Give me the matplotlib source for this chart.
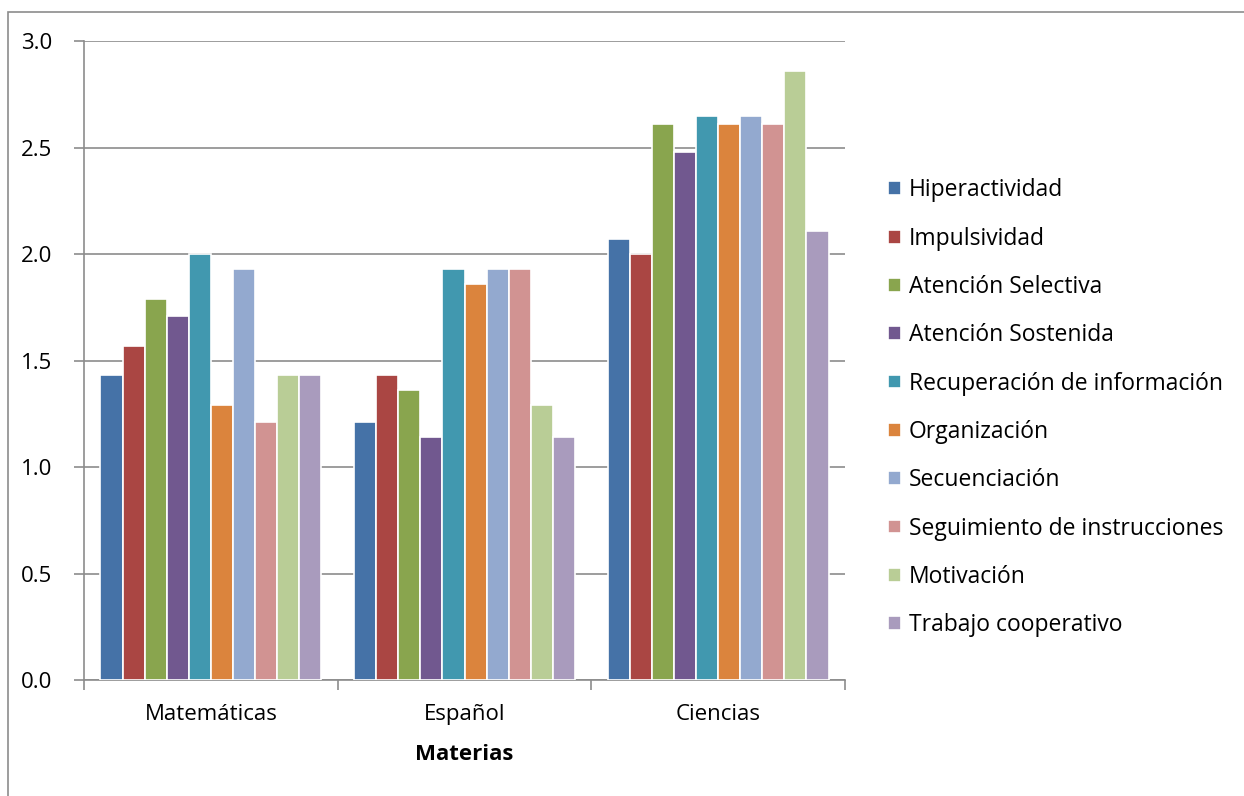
import matplotlib
matplotlib.use("Agg")
import matplotlib.pyplot as plt
from matplotlib.patches import Rectangle
import numpy as np

materias = ["Matemáticas", "Español", "Ciencias"]
series = ["Hiperactividad", "Impulsividad", "Atención Selectiva", "Atención Sostenida",
          "Recuperación de información", "Organización", "Secuenciación",
          "Seguimiento de instrucciones", "Motivación", "Trabajo cooperativo"]
# one row per serie: Matemáticas, Español, Ciencias
valores = [
    [1.43, 1.21, 2.07],
    [1.57, 1.43, 2.00],
    [1.79, 1.36, 2.61],
    [1.71, 1.14, 2.48],
    [2.00, 1.93, 2.65],
    [1.29, 1.86, 2.61],
    [1.93, 1.93, 2.65],
    [1.21, 1.93, 2.61],
    [1.43, 1.29, 2.86],
    [1.43, 1.14, 2.11],
]
colores = ["#4572A7", "#AA4643", "#89A54E", "#71588F", "#4198AF",
           "#DB843D", "#93A9CF", "#D19392", "#B9CD96", "#A99BBD"]

plt.rcParams['font.family'] = ['Open Sans', 'DejaVu Sans']
fs = 16

fig = plt.figure(figsize=(12.44, 7.96), dpi=100)
ax = fig.add_axes([84/1244, 1 - 680/796, 761/1244, 639/796])

# outer chart border
fig.patches.append(Rectangle((8/1244, -0.1), 1.2, 1 - 12/796 + 0.1, transform=fig.transFigure,
                             fill=False, edgecolor="#8c8c8c", linewidth=1.2))

x = np.arange(len(materias))
w = 0.087
for i, (nombre, vals) in enumerate(zip(series, valores)):
    pos = x + (i - 4.5) * w
    ax.bar(pos, vals, w, color=colores[i], edgecolor="white", linewidth=1.2,
           label=nombre, zorder=3)

ax.set_xlim(-0.5, 2.5)
ax.set_ylim(0, 3.0)
ax.set_yticks(np.arange(0, 3.01, 0.5))
ax.set_yticklabels([f"{v:.1f}" for v in np.arange(0, 3.01, 0.5)])
ax.yaxis.grid(True, color="#8c8c8c", linewidth=1.2, zorder=0)
ax.set_axisbelow(True)

ax.set_xticks(x)
ax.set_xticklabels(materias)
ax.set_xticks([-0.5, 0.5, 1.5, 2.5], minor=True)
ax.tick_params(axis="x", which="major", length=0, pad=17, labelsize=fs)
ax.tick_params(axis="x", which="minor", length=7, color="#8c8c8c", width=1.2)
ax.tick_params(axis="y", length=7, color="#8c8c8c", width=1.2, labelsize=fs, pad=16)
ax.set_xlabel("Materias", fontsize=fs, fontweight="bold", labelpad=14)

for s in ["top", "right"]:
    ax.spines[s].set_visible(False)
for s in ["left", "bottom"]:
    ax.spines[s].set_color("#8c8c8c")
    ax.spines[s].set_linewidth(1.2)

ax.legend(loc="center left", bbox_to_anchor=(1.03, 0.426), frameon=False, fontsize=16.5,
          handlelength=0.55, handleheight=0.55, handletextpad=0.35, labelspacing=1.06)

fig.savefig("out.png", dpi=100)
